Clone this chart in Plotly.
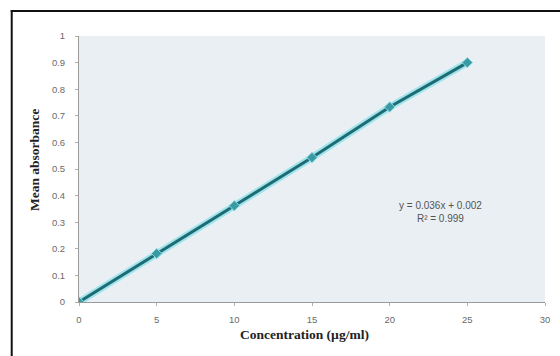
import plotly.graph_objects as go

# Calibration data: concentration (µg/ml) vs mean absorbance
concentration = [0, 5, 10, 15, 20, 25]
mean_absorbance = [0.0, 0.182, 0.362, 0.543, 0.733, 0.900]

x_ticks = [0, 5, 10, 15, 20, 25, 30]
y_ticks = [0, 0.1, 0.2, 0.3, 0.4, 0.5, 0.6, 0.7, 0.8, 0.9, 1]
y_tick_text = ["0", "0.1", "0.2", "0.3", "0.4", "0.5", "0.6", "0.7", "0.8", "0.9", "1"]

equation_text = "y = 0.036x + 0.002<br>R² = 0.999"

W, H = 560, 356
L, R, T, B = 79, 10, 36, 54
pw, ph = W - L - R, H - T - B


def px_x(px):
    return (px - L) / pw


def px_y(py):
    return (H - B - py) / ph


fig = go.Figure()

# soft cyan halo under the series line
fig.add_trace(go.Scatter(
    x=concentration, y=mean_absorbance, mode="lines",
    line=dict(color="#9fe4ec", width=7), hoverinfo="skip", showlegend=False,
))
fig.add_trace(go.Scatter(
    x=concentration, y=mean_absorbance, mode="lines+markers",
    line=dict(color="#1f6b73", width=3),
    marker=dict(symbol="diamond", size=8, color="#3a9aa4",
                line=dict(color="#8fdde6", width=1)),
    showlegend=False,
))

axis_common = dict(
    showgrid=False, zeroline=False, showline=True, linecolor="#9a9a9a",
    linewidth=1, ticks="outside", ticklen=3, tickcolor="#b0b0b0",
    tickfont=dict(family="Liberation Sans", size=9.5, color="#6a6a6a"),
)

fig.update_layout(
    width=W, height=H,
    margin=dict(l=L, r=R, t=T, b=B),
    paper_bgcolor="#ffffff",
    plot_bgcolor="#e9eff3",
    xaxis=dict(range=[0, 30], tickvals=x_ticks, ticklabelstandoff=6, **axis_common),
    yaxis=dict(range=[0, 1], tickvals=y_ticks, ticktext=y_tick_text,
               ticklabelstandoff=8, **axis_common),
    annotations=[
        dict(text="<b>Mean absorbance</b>", x=px_x(24), y=px_y(160),
             xref="paper", yref="paper", showarrow=False, textangle=-90,
             font=dict(family="Liberation Serif", size=13.5, color="#222222")),
        dict(text="<b>Concentration (µg/ml)</b>", x=px_x(307), y=px_y(344),
             xref="paper", yref="paper", showarrow=False,
             font=dict(family="Liberation Serif", size=13.5, color="#222222")),
        dict(text=equation_text, x=px_x(488), y=px_y(226),
             xref="paper", yref="paper", showarrow=False, align="center",
             font=dict(family="Liberation Sans", size=10, color="#555555")),
    ],
    shapes=[
        dict(type="line", xref="paper", yref="paper",
             x0=px_x(10), x1=px_x(570), y0=px_y(11), y1=px_y(11),
             line=dict(color="#111111", width=2)),
        dict(type="line", xref="paper", yref="paper",
             x0=px_x(11), x1=px_x(11), y0=px_y(10), y1=px_y(370),
             line=dict(color="#111111", width=2)),
    ],
)

fig.write_html("out.html")
